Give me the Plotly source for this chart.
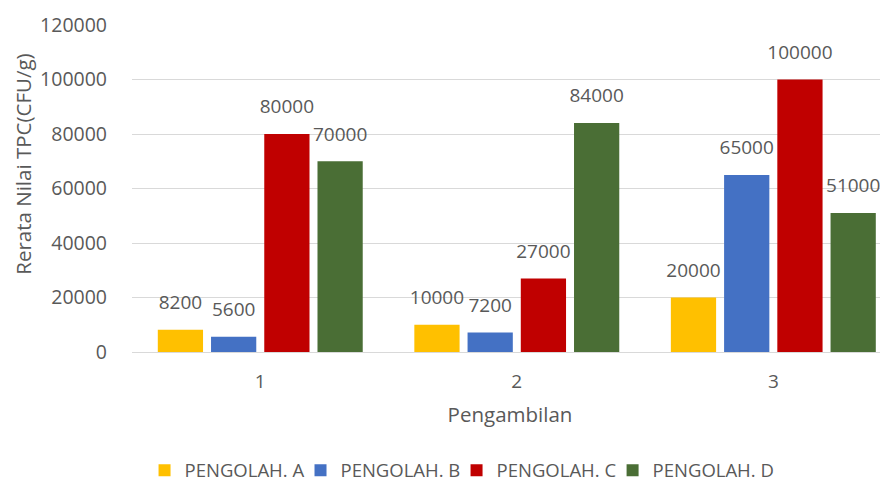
import plotly.graph_objects as go

categories = ["1", "2", "3"]
series_names = ["PENGOLAH. A", "PENGOLAH. B", "PENGOLAH. C", "PENGOLAH. D"]
vals_a = [8200, 10000, 20000]
vals_b = [5600, 7200, 65000]
vals_c = [80000, 27000, 100000]
vals_d = [70000, 84000, 51000]
colors = ["#FFC000", "#4471C4", "#C00000", "#4A6E35"]
y_ticks = [0, 20000, 40000, 60000, 80000, 100000, 120000]

FONT = "Open Sans"
GRAY = "#595959"
legend_ids = ["legend", "legend2", "legend3", "legend4"]
legend_x = [0.0166, 0.2229, 0.4293, 0.6357]

fig = go.Figure()
for i, (name, vals, col) in enumerate(zip(series_names, [vals_a, vals_b, vals_c, vals_d], colors)):
    fig.add_trace(go.Bar(
        x=categories, y=vals, name=name,
        marker=dict(color=col, line=dict(width=0)),
        offsetgroup=str(i), alignmentgroup="g",
        legend=legend_ids[i],
    ))
for i, (name, vals) in enumerate(zip(series_names, [vals_a, vals_b, vals_c, vals_d])):
    fig.add_trace(go.Scatter(
        x=categories, y=vals, mode="markers+text",
        marker=dict(size=24, opacity=0),
        text=[str(v) for v in vals], textposition="top center",
        textfont=dict(family=FONT, size=19, color=GRAY),
        offsetgroup=str(i), alignmentgroup="g",
        showlegend=False, hoverinfo="skip", cliponaxis=False,
    ))

leg_common = dict(orientation="h", yanchor="middle", y=-0.363, xanchor="left",
                  font=dict(family=FONT, size=18.5, color=GRAY), itemwidth=30,
                  traceorder="normal", bgcolor="rgba(0,0,0,0)")
legends = {lid: dict(x=lx, **leg_common) for lid, lx in zip(legend_ids, legend_x)}

fig.update_layout(
    width=880, height=475,
    margin=dict(l=124, r=0, t=17, b=131, autoexpand=False),
    paper_bgcolor="white", plot_bgcolor="white",
    barmode="group", bargap=0.17, bargroupgap=0.15,
    scattermode="group", scattergap=0.17,
    font=dict(family=FONT, color=GRAY),
    showlegend=True,
    annotations=[dict(
        text="Rerata Nilai TPC(CFU/g)", textangle=-90,
        xref="paper", yref="paper", x=-0.1445, y=0.575,
        xanchor="center", yanchor="middle", showarrow=False,
        font=dict(family=FONT, size=20.5, color=GRAY),
    )],
    **legends,
)
fig.update_xaxes(
    type="category", range=[-0.5, 2.447], showline=True, linecolor="#D9D9D9", linewidth=1,
    showgrid=False, ticks="", ticklabelstandoff=12, automargin=False,
    tickfont=dict(family=FONT, size=19, color=GRAY),
    title=dict(text="Pengambilan", font=dict(family=FONT, size=20.5, color=GRAY), standoff=14),
)
fig.update_yaxes(
    range=[0, 120000], tickvals=y_ticks, ticktext=[str(t) for t in y_ticks],
    showgrid=True, gridcolor="#D9D9D9", gridwidth=1, zeroline=False, automargin=False,
    tickfont=dict(family=FONT, size=19.5, color=GRAY), ticklabelstandoff=24,
)
fig.write_html("out.html")
